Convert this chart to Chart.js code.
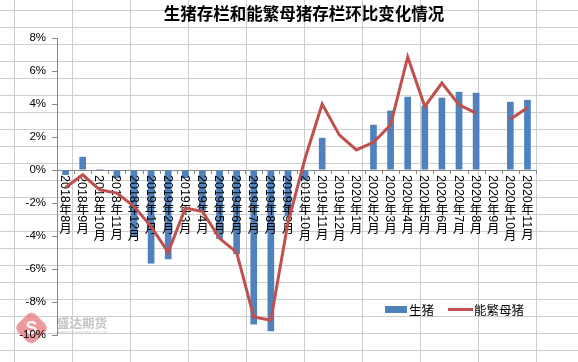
<!DOCTYPE html>
<html lang="zh">
<head>
  <meta charset="UTF-8">
  <title>生猪存栏和能繁母猪存栏环比变化情况</title>
  <script src="https://cdn.jsdelivr.net/npm/chart.js"></script>
  <style>
    body { margin: 0; background: #fff; }
  </style>
</head>
<body>
  <canvas id="chart" width="578" height="362"></canvas>

  <script>
    // data (percent, month on month)
    const months = [
      '2018年8月', '2018年9月', '2018年10月', '2018年11月', '2018年12月',
      '2019年1月', '2019年2月', '2019年3月', '2019年4月', '2019年5月', '2019年6月',
      '2019年7月', '2019年8月', '2019年9月', '2019年10月', '2019年11月', '2019年12月',
      '2020年1月', '2020年2月', '2020年3月', '2020年4月', '2020年5月', '2020年6月',
      '2020年7月', '2020年8月', '2020年9月', '2020年10月', '2020年11月'
    ];
    const hogs = [
      -0.3, 0.8, 0.06, -0.5, -4.0,
      -5.67, -5.41, -0.5, -2.5, -4.18, -5.1,
      -9.36, -9.77, -2.8, -0.6, 1.95, null,
      null, 2.74, 3.6, 4.44, 3.9, 4.38,
      4.74, 4.68, null, 4.13, 4.25
    ];
    const sows = [
      -1.06, -0.29, -1.2, -1.4, -2.2,
      -3.43, -4.99, -2.31, -2.51, -4.14, -4.99,
      -8.9, -9.1, -3.2, 0.7, 4.0, 2.13,
      1.22, 1.68, 2.73, 6.85, 3.85, 5.27,
      3.95, 3.45, null, 3.08, 3.77
    ];
    const seriesNames = ['生猪', '能繁母猪'];
    const chartTitle = '生猪存栏和能繁母猪存栏环比变化情况';

    const BLUE = '#4F81BD';
    const RED = '#C0504D';
    const AXIS = '#868686';
    const CJK = '"Noto Sans CJK SC"';

    // spreadsheet cells behind the chart, watermark, labels, title, legend
    const sheetPlugin = {
      id: 'sheet',
      beforeDraw(chart) {
        const ctx = chart.ctx;
        ctx.save();
        ctx.fillStyle = '#fff';
        ctx.fillRect(0, 0, chart.width, chart.height);
        ctx.strokeStyle = '#cecece';
        ctx.lineWidth = 1;
        ctx.beginPath();
        for (let x = 14.5; x < chart.width; x += 58) {
          ctx.moveTo(x, 0); ctx.lineTo(x, chart.height);
        }
        for (let y = 10.5; y < chart.height; y += 17) {
          ctx.moveTo(0, y); ctx.lineTo(chart.width, y);
        }
        ctx.stroke();

        // watermark logo
        ctx.save();
        ctx.translate(31.5, 328);
        ctx.rotate(Math.PI / 4);
        ctx.fillStyle = 'rgba(230, 110, 115, 0.7)';
        ctx.beginPath();
        ctx.roundRect(-12.5, -12.5, 25, 25, 6);
        ctx.fill();
        ctx.restore();
        ctx.fillStyle = 'rgba(255,255,255,0.9)';
        ctx.font = 'bold 18px "Liberation Sans"';
        ctx.textAlign = 'center';
        ctx.textBaseline = 'middle';
        ctx.fillText('S', 31.5, 329);
        ctx.fillStyle = '#c4c4c4';
        ctx.font = 'bold 12.5px ' + CJK;
        ctx.textAlign = 'left';
        ctx.fillText('盛达期货', 57, 323);
        ctx.font = '3.5px "Liberation Sans"';
        ctx.fillText('SHENGDA FUTURES CO.,LTD', 57, 333);
        ctx.restore();
      },
      afterDatasetDraw(chart, args) {
        // x labels go above the bars but under the line
        if (args.index !== 0) return;
        const ctx = chart.ctx;
        const xs = chart.scales.x;
        const y0 = chart.scales.y.getPixelForValue(0);
        ctx.save();
        // axis tick marks between categories
        ctx.strokeStyle = AXIS;
        ctx.lineWidth = 1;
        ctx.beginPath();
        const step = (chart.chartArea.right - chart.chartArea.left) / months.length;
        for (let k = 0; k <= months.length; k++) {
          const x = Math.round(chart.chartArea.left + k * step) + 0.5;
          ctx.moveTo(x, y0); ctx.lineTo(x, y0 + 4);
        }
        ctx.stroke();

        ctx.fillStyle = '#000';
        months.forEach((lab, i) => {
          const cx = xs.getPixelForValue(i);
          let y = y0 + 5;
          lab.match(/\d+|\D/g).forEach(run => {
            if (/\d/.test(run)) {
              ctx.font = '12.5px "Liberation Sans"';
              const w = ctx.measureText(run).width;
              ctx.save();
              ctx.translate(cx, y);
              ctx.rotate(Math.PI / 2);
              ctx.textAlign = 'left';
              ctx.textBaseline = 'middle';
              ctx.fillText(run, 0, 1);
              ctx.restore();
              y += w;
            } else {
              ctx.font = '12.5px ' + CJK;
              ctx.textAlign = 'center';
              ctx.textBaseline = 'top';
              ctx.fillText(run, cx, y);
              y += 12.5;
            }
          });
        });
        ctx.restore();
      },
      afterDraw(chart) {
        const ctx = chart.ctx;
        ctx.save();
        ctx.fillStyle = '#000';
        ctx.font = 'bold 16.5px ' + CJK;
        ctx.textAlign = 'center';
        ctx.textBaseline = 'middle';
        ctx.fillText(chartTitle, 304, 14);

        // legend
        ctx.fillStyle = BLUE;
        ctx.fillRect(385, 306, 22, 7);
        ctx.strokeStyle = RED;
        ctx.lineWidth = 3;
        ctx.beginPath();
        ctx.moveTo(448, 309.5); ctx.lineTo(473, 309.5);
        ctx.stroke();
        ctx.fillStyle = '#000';
        ctx.font = '12.5px ' + CJK;
        ctx.textAlign = 'left';
        ctx.fillText(seriesNames[0], 409, 310);
        ctx.fillText(seriesNames[1], 474, 310);
        ctx.restore();
      }
    };

    new Chart(document.getElementById('chart'), {
      type: 'bar',
      data: {
        labels: months,
        datasets: [
          {
            type: 'bar',
            label: seriesNames[0],
            data: hogs,
            backgroundColor: BLUE,
            barPercentage: 0.39,
            categoryPercentage: 1,
            order: 1
          },
          {
            type: 'line',
            label: seriesNames[1],
            data: sows,
            borderColor: RED,
            borderWidth: 3,
            pointRadius: 0,
            tension: 0,
            spanGaps: false,
            order: 0
          }
        ]
      },
      options: {
        responsive: false,
        animation: false,
        devicePixelRatio: 1,
        layout: { padding: { top: 38, bottom: 27, left: 0, right: 42 } },
        plugins: {
          legend: { display: false },
          title: { display: false },
          tooltip: { enabled: false }
        },
        scales: {
          x: { display: false, offset: true },
          y: {
            min: -10,
            max: 8,
            afterFit: s => { s.width = 57; },
            ticks: {
              stepSize: 2,
              padding: 6,
              color: '#000',
              font: { family: '"Liberation Sans"', size: 11.5 },
              callback: v => v + '%'
            },
            grid: {
              color: c => c.tick && c.tick.value === 0 ? AXIS : 'rgba(0,0,0,0)',
              tickColor: AXIS,
              tickLength: 5
            },
            border: { color: AXIS }
          }
        }
      },
      plugins: [sheetPlugin]
    });
  </script>
</body>
</html>
